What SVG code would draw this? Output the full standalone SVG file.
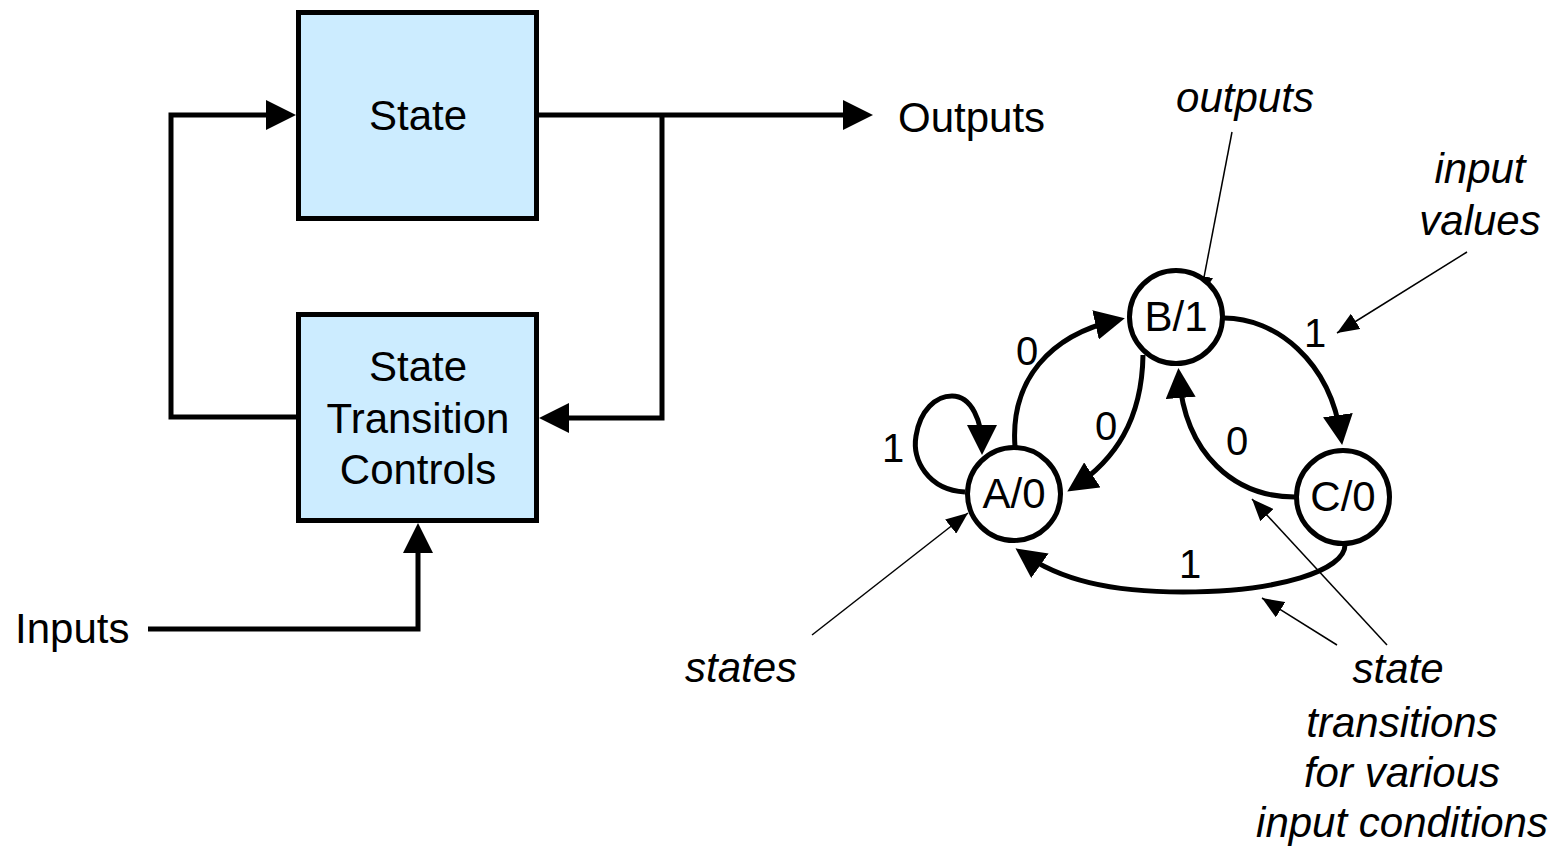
<svg xmlns="http://www.w3.org/2000/svg" width="1562" height="848" viewBox="0 0 1562 848">
<style>
.box{fill:#CCECFF;stroke:#000;stroke-width:5}
.st{fill:#fff;stroke:#000;stroke-width:5}
.t{font-family:"Liberation Sans",Arial,sans-serif;font-size:42px;fill:#000;text-anchor:middle}
.l{font-family:"Liberation Sans",Arial,sans-serif;font-size:40px;fill:#000;text-anchor:middle}
.it{font-family:"Liberation Sans",Arial,sans-serif;font-size:42px;font-style:italic;fill:#000;text-anchor:middle}
.w{fill:none;stroke:#000;stroke-width:5}
.a{fill:none;stroke:#000;stroke-width:1.5}
</style>
<defs>
<marker id="ah" viewBox="0 0 30 30" refX="22" refY="15" markerWidth="30" markerHeight="30" markerUnits="userSpaceOnUse" orient="auto">
<path d="M0,0 L30,15 L0,30 z" fill="#000"/>
</marker>
<marker id="ahs" viewBox="0 0 22 18" refX="22" refY="9" markerWidth="22" markerHeight="18" markerUnits="userSpaceOnUse" orient="auto">
<path d="M0,0 L22,9 L0,18 z" fill="#000"/>
</marker>
</defs>
<g id="connectors">
<path class="w" d="M296,417 H171 V115 H288" marker-end="url(#ah)"/>
<path class="w" d="M539,115 H865" marker-end="url(#ah)"/>
<path class="w" d="M662,115 V418 H547" marker-end="url(#ah)"/>
<path class="w" d="M148,629 H418 V531" marker-end="url(#ah)"/>
<path class="w" d="M1015,447 C1010,380 1050,335 1117,320" marker-end="url(#ah)"/>
<path class="w" d="M1143,355 C1142,420 1115,460 1074,487" marker-end="url(#ah)"/>
<path class="w" d="M965,492 C928,490 912,460 916,436 C920,410 936,396 952,396 C972,396 982,422 982,447" marker-end="url(#ah)"/>
<path class="w" d="M1224,318 C1275,318 1330,360 1341,437" marker-end="url(#ah)"/>
<path class="w" d="M1295,497 C1235,497 1185,455 1179,376" marker-end="url(#ah)"/>
<path class="w" d="M1345,545 C1345,570 1280,592 1183,592 C1110,592 1060,580 1022,553" marker-end="url(#ah)"/>
<path class="a" d="M1232,132 L1200,298" marker-end="url(#ahs)"/>
<path class="a" d="M1467,252 L1337,333" marker-end="url(#ahs)"/>
<path class="a" d="M812,635 L968,513" marker-end="url(#ahs)"/>
<path class="a" d="M1337,645 L1262,598" marker-end="url(#ahs)"/>
<path class="a" d="M1387,645 L1252,499" marker-end="url(#ahs)"/>
</g>
<g id="state">
<rect class="box" x="298.5" y="12.5" width="238" height="206"/>
<text class="t" x="418" y="130">State</text>
</g>
<g id="stc">
<rect class="box" x="298.5" y="314.5" width="238" height="206"/>
<text class="t" x="418" y="381">State</text>
<text class="t" x="418" y="433">Transition</text>
<text class="t" x="418" y="484">Controls</text>
</g>
<g id="outputs-label"><text class="t" x="898" y="132" style="text-anchor:start">Outputs</text></g>
<g id="inputs-label"><text class="t" x="15" y="643" style="text-anchor:start">Inputs</text></g>
<g id="nodeA">
<circle class="st" cx="1014" cy="494" r="46.5"/>
<text class="t" x="1014" y="508">A/0</text>
</g>
<g id="nodeB">
<circle class="st" cx="1176" cy="317" r="46.5"/>
<text class="t" x="1176" y="331">B/1</text>
</g>
<g id="nodeC">
<circle class="st" cx="1343" cy="497" r="46.5"/>
<text class="t" x="1343" y="511">C/0</text>
</g>
<g id="edge-labels">
<text class="l" x="1027" y="365">0</text>
<text class="l" x="1106" y="440">0</text>
<text class="l" x="893" y="462">1</text>
<text class="l" x="1315" y="347">1</text>
<text class="l" x="1237" y="455">0</text>
<text class="l" x="1190" y="578">1</text>
</g>
<g id="annotations">
<text class="it" x="1245" y="112">outputs</text>
<text class="it" x="1480" y="183">input</text>
<text class="it" x="1480" y="235">values</text>
<text class="it" x="741" y="682">states</text>
<text class="it" x="1398" y="683">state</text>
<text class="it" x="1402" y="737">transitions</text>
<text class="it" x="1402" y="787">for various</text>
<text class="it" x="1402" y="837">input conditions</text>
</g>
</svg>
